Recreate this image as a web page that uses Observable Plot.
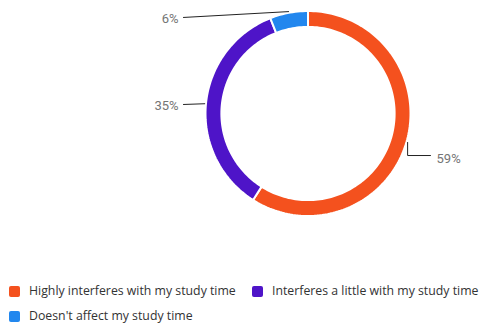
<!DOCTYPE html>
<html>
<head>
<meta charset="utf-8">
<script src="https://cdn.jsdelivr.net/npm/d3@7"></script>
<script src="https://cdn.jsdelivr.net/npm/@observablehq/plot@0.6"></script>
<style>
  html, body { margin: 0; padding: 0; background: #fff; }
  #wrap { position: relative; width: 481px; height: 325px; overflow: hidden; font-family: "Open Sans", Roboto, sans-serif; }
  #chart svg { display: block; }
  .item { position: absolute; white-space: nowrap; display: flex; align-items: center; line-height: 14px; }
  .sw { width: 11px; height: 11px; border-radius: 2px; margin-right: 9px; flex: none; }
</style>
</head>
<body>
<div id="wrap">
  <div id="chart"></div>
  <div id="legend"></div>
</div>
<script>
const categories = [
  "Highly interferes with my study time",
  "Interferes a little with my study time",
  "Doesn't affect my study time"
];
const values = [59, 35, 6];
const labels = ["59%", "35%", "6%"];
const colors = ["#f4511e", "#4e14c8", "#2287ee"];

// pie angles (clockwise from top)
const total = d3.sum(values);
let acc = 0;
const slices = values.map((v, i) => {
  const a0 = acc / total * 2 * Math.PI;
  acc += v;
  const a1 = acc / total * 2 * Math.PI;
  return {cat: categories[i], label: labels[i], a0, a1, mid: (a0 + a1) / 2};
});

const R0 = 0.845, R1 = 1;
const pt = (a, r) => [r * Math.sin(a), r * Math.cos(a)];

const polys = [];
slices.forEach(s => {
  const n = Math.max(4, Math.ceil((s.a1 - s.a0) / (2 * Math.PI) * 240));
  const pts = [];
  for (let k = 0; k <= n; k++) pts.push(pt(s.a0 + (s.a1 - s.a0) * k / n, R1));
  for (let k = n; k >= 0; k--) pts.push(pt(s.a0 + (s.a1 - s.a0) * k / n, R0));
  pts.push(pts[0]);
  pts.forEach(([x, y]) => polys.push({cat: s.cat, x, y}));
});

// leader lines (layout)
const leaders = [];
const texts = [];
slices.forEach((s, i) => {
  const [ax, ay] = pt(s.mid, 1.012);
  let path, tx, ty, anchor;
  if (i === 0) {
    path = [[ax, ay], [ax, -0.41], [1.195, -0.41]];
    tx = 1.254; ty = -0.44; anchor = "start";
  } else if (i === 1) {
    path = [[ax, ay], [-1.215, 0.088]];
    tx = -1.263; ty = 0.074; anchor = "end";
  } else {
    path = [[ax, ay], [-1.215, 0.937]];
    tx = -1.263; ty = 0.927; anchor = "end";
  }
  path.forEach(([x, y]) => leaders.push({k: i, x, y}));
  texts.push({x: tx, y: ty, label: s.label, anchor});
});

const cx = 307.5, cy = 113, rad = 102.5;
const chart = Plot.plot({
  width: 481,
  height: 240,
  margin: 0,
  x: {domain: [-1, 1], range: [cx - rad, cx + rad], axis: null},
  y: {domain: [-1, 1], range: [cy + rad, cy - rad], axis: null},
  color: {domain: categories, range: colors},
  style: {fontFamily: "Roboto, sans-serif", background: "white"},
  marks: [
    Plot.line(polys, {x: "x", y: "y", z: "cat", fill: "cat", stroke: "white", strokeWidth: 2, curve: "linear"}),
    Plot.line(leaders, {x: "x", y: "y", z: "k", stroke: "#222", strokeWidth: 1}),
    Plot.text(texts.filter(t => t.anchor === "start"), {x: "x", y: "y", text: "label", textAnchor: "start", fill: "#757575", fontSize: 13}),
    Plot.text(texts.filter(t => t.anchor === "end"), {x: "x", y: "y", text: "label", textAnchor: "end", fill: "#757575", fontSize: 13})
  ]
});
document.getElementById("chart").appendChild(chart);

// legend
const legend = document.getElementById("legend");
const positions = [[9, 284], [252, 284], [9, 309]];
categories.forEach((c, i) => {
  const it = document.createElement("div");
  it.className = "item";
  it.style.left = positions[i][0] + "px";
  it.style.top = positions[i][1] + "px";
  it.style.fontSize = "12.3px";
  it.style.color = "#333";
  const sw = document.createElement("span");
  sw.className = "sw";
  sw.style.background = colors[i];
  const tx = document.createElement("span");
  tx.textContent = c;
  it.appendChild(sw);
  it.appendChild(tx);
  legend.appendChild(it);
});
</script>
</body>
</html>
